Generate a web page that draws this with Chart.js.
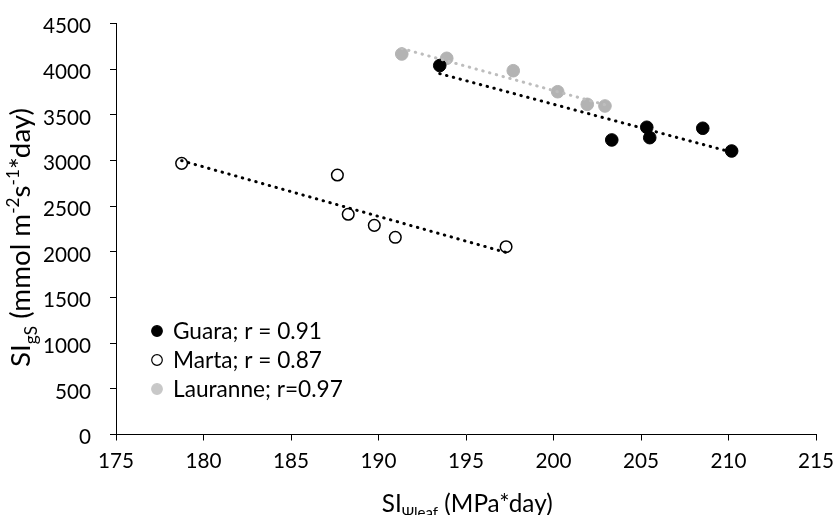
<!DOCTYPE html>
<html>
<head>
<meta charset="utf-8">
<script src="https://cdn.jsdelivr.net/npm/chart.js@4"></script>
<style>
html,body{margin:0;padding:0;background:#fff;}
#wrap{width:833px;height:515px;position:relative;}
</style>
</head>
<body>
<div id="wrap"><canvas id="c" width="833" height="515"></canvas></div>
<script>
// ---- data ----
const guaraX = [193.5, 203.33, 205.33, 205.5, 208.53, 210.18];
const guaraY = [4040, 3225, 3364, 3250, 3353, 3104];
const martaX = [178.75, 187.65, 188.27, 189.76, 190.96, 197.29];
const martaY = [2969, 2841, 2411, 2290, 2159, 2056];
const lauranneX = [191.33, 193.9, 197.7, 200.24, 201.93, 202.94];
const lauranneY = [4166, 4119, 3983, 3753, 3615, 3597];
const seriesLabels = ['Guara; r = 0.91', 'Marta; r = 0.87', 'Lauranne; r=0.97'];
const xTicks = [175, 180, 185, 190, 195, 200, 205, 210, 215];
const yTicks = [0, 500, 1000, 1500, 2000, 2500, 3000, 3500, 4000, 4500];

const FONT = 'Lato, "Open Sans", sans-serif';

// measure helper so text extents match the reference
const mctx = document.createElement('canvas').getContext('2d');
function widthAt(parts, size){
  let w = 0;
  parts.forEach(p=>{ mctx.font = (p[1]*size) + 'px ' + FONT; w += mctx.measureText(p[0]).width; });
  return w;
}
function fitSize(parts, target){ return 20 * target / widthAt(parts, 20); }

const tickSize = fitSize([['4500',1]], 48);
const legendSize = fitSize([[seriesLabels[2],1]], 170);
const xTitleParts = [['SI',1,0], ['Ψleaf',0.62,0.25], [' (MPa*day)',1,0]];
const yTitleParts = [['SI',1,0], ['gS',0.62,0.25], [' (mmol m',1,0], ['-2',0.62,-0.38], ['s',1,0], ['-1',0.62,-0.38], ['*day)',1,0]];
const xTitleSize = fitSize(xTitleParts, 171);
const yTitleSize = fitSize(yTitleParts, 259);

function pts(xs, ys){ return xs.map((x,i)=>({x:x, y:ys[i]})); }
// least-squares linear trendline (as in the original spreadsheet chart)
function trend(xs, ys){
  const n = xs.length;
  const mx = xs.reduce((a,b)=>a+b,0)/n, my = ys.reduce((a,b)=>a+b,0)/n;
  let sxy=0, sxx=0;
  for(let i=0;i<n;i++){ sxy += (xs[i]-mx)*(ys[i]-my); sxx += (xs[i]-mx)*(xs[i]-mx); }
  const b = sxy/sxx, a = my - b*mx;
  const x0 = Math.min(...xs), x1 = Math.max(...xs);
  return [{x:x0, y:a+b*x0}, {x:x1, y:a+b*x1}];
}

const GRAY = '#b3b3b3';
const trendStyle = (c)=>({type:'line', showLine:true, pointRadius:0, borderWidth:3, borderColor:c,
  borderDash:[0.5,6.5], borderCapStyle:'round', fill:false, order:0});

const data = {
  datasets: [
    Object.assign({label:'tG', data: trend(guaraX, guaraY)}, trendStyle('#000')),
    Object.assign({label:'tM', data: trend(martaX, martaY)}, trendStyle('#000')),
    Object.assign({label:'tL', data: trend(lauranneX, lauranneY)}, trendStyle('#bdbdbd')),
    {label: seriesLabels[0], data: pts(guaraX, guaraY), pointRadius:6.3, pointBackgroundColor:'#000', pointBorderColor:'#000', pointBorderWidth:1, order:1},
    {label: seriesLabels[1], data: pts(martaX, martaY), pointRadius:5.8, pointBackgroundColor:'#fff', pointBorderColor:'#000', pointBorderWidth:1.5, order:1},
    {label: seriesLabels[2], data: pts(lauranneX, lauranneY), pointRadius:6.3, pointBackgroundColor:GRAY, pointBorderColor:GRAY, pointBorderWidth:1, order:1}
  ]
};

function drawParts(ctx, parts, size, x, y){
  parts.forEach(p=>{
    ctx.font = (p[1]*size) + 'px ' + FONT;
    ctx.fillText(p[0], x, y + p[2]*size);
    x += ctx.measureText(p[0]).width;
  });
}

const customText = {
  id:'customText',
  afterDraw(chart){
    const ctx = chart.ctx;
    ctx.save();
    ctx.fillStyle = '#000';
    ctx.textBaseline = 'alphabetic';
    ctx.textAlign = 'left';
    // x title
    drawParts(ctx, xTitleParts, xTitleSize, 381.7, 512);
    // y title rotated
    const w = widthAt(yTitleParts, yTitleSize);
    ctx.translate(30, 237.5);
    ctx.rotate(-Math.PI/2);
    drawParts(ctx, yTitleParts, yTitleSize, -w/2, 0);
    ctx.restore();

    // legend
    ctx.save();
    const rows = [
      {label: seriesLabels[0], fill:'#000', stroke:'#000'},
      {label: seriesLabels[1], fill:'#fff', stroke:'#000'},
      {label: seriesLabels[2], fill:'#c8c8c8', stroke:'#c8c8c8'}
    ];
    ctx.font = legendSize + 'px ' + FONT;
    ctx.textBaseline = 'middle';
    ctx.textAlign = 'left';
    rows.forEach((r,i)=>{
      const cy = 331 + i*29;
      ctx.beginPath();
      ctx.arc(157, cy, 5.3, 0, Math.PI*2);
      ctx.fillStyle = r.fill; ctx.fill();
      ctx.lineWidth = 1.2; ctx.strokeStyle = r.stroke; ctx.stroke();
      ctx.fillStyle = '#000';
      ctx.fillText(r.label, 173, cy + 1);
    });
    ctx.restore();
  }
};

new Chart(document.getElementById('c'), {
  type:'scatter',
  data: data,
  plugins:[customText],
  options:{
    responsive:false,
    animation:false,
    devicePixelRatio:1,
    layout:{padding:{left:0, right:17, top:23.5, bottom:0}},
    plugins:{legend:{display:false}, tooltip:{enabled:false}},
    scales:{
      x:{
        type:'linear', min:175, max:215,
        afterBuildTicks(s){ s.ticks = xTicks.map(v=>({value:v})); },
        afterFit(s){ s.height = 80.5; s.paddingLeft = 0; s.paddingRight = 0; },
        border:{display:true, color:'#000', width:1},
        grid:{display:true, drawOnChartArea:false, drawTicks:true, tickLength:6, color:'#000'},
        ticks:{color:'#000', font:{family:FONT, size:tickSize}, padding:8, maxRotation:0, autoSkip:false,
               callback:(v)=>String(v)}
      },
      y:{
        type:'linear', min:0, max:4500,
        afterBuildTicks(s){ s.ticks = yTicks.map(v=>({value:v})); },
        afterFit(s){ s.width = 116; s.paddingTop = 0; s.paddingBottom = 0; },
        border:{display:true, color:'#000', width:1},
        grid:{display:true, drawOnChartArea:false, drawTicks:true, tickLength:6, color:'#000'},
        ticks:{color:'#000', font:{family:FONT, size:tickSize}, padding:19, autoSkip:false, labelOffset:3,
               callback:(v)=>String(v)}
      }
    }
  }
});
</script>
</body>
</html>
